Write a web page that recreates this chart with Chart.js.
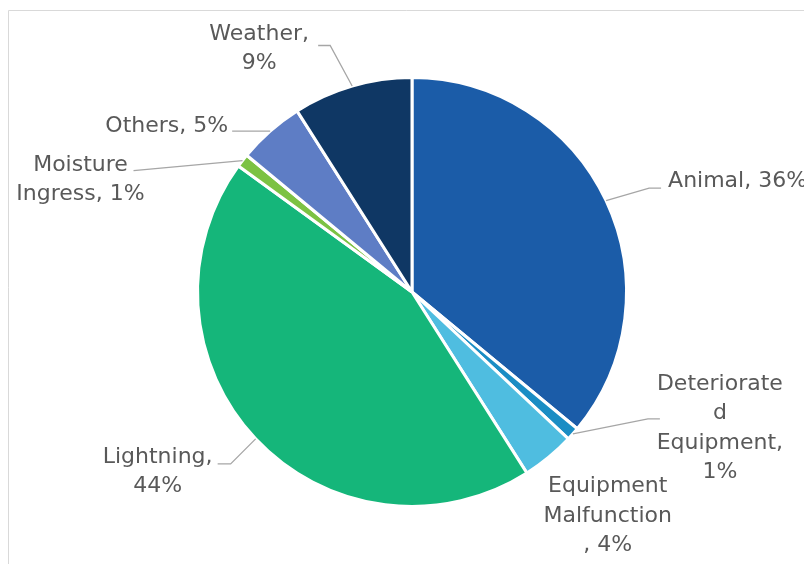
<!DOCTYPE html>
<html>
<head>
<meta charset="utf-8">
<script src="https://cdn.jsdelivr.net/npm/chart.js@4/dist/chart.umd.min.js"></script>
<style>
  html, body { margin: 0; padding: 0; background: #ffffff; }
  #wrap { width: 804px; height: 564px; }
</style>
</head>
<body>
<div id="wrap"><canvas id="c" width="804" height="564"></canvas></div>
<script>
// Outage causes, share of events (%)
const categories = ['Animal', 'Deteriorated Equipment', 'Equipment Malfunction', 'Lightning', 'Moisture Ingress', 'Others', 'Weather'];
const shares = [36, 1, 4, 44, 1, 5, 9];
const sliceColors = ['#1b5ca8', '#1a8dc4', '#4fbde0', '#15b67a', '#7cc243', '#5e7dc5', '#0f3764'];

// Data label text, wrapped line by line
const pct = i => shares[i] + '%';
const labelLines = [
  ['Animal, ' + pct(0)],
  ['Deteriorate', 'd', 'Equipment,', pct(1)],
  ['Equipment', 'Malfunction', ', ' + pct(2)],
  ['Lightning,', pct(3)],
  ['Moisture', 'Ingress, ' + pct(4)],
  ['Others, ' + pct(5)],
  ['Weather,', pct(6)]
];

// Label placement relative to each slice's outer mid-point:
// leader = bend points of the leader line, tx/ty = text anchor (first baseline)
const labelLayout = [
  { leader: [[43, -12.5], [55, -12.5]], tx: 62, ty: -13.5, align: 'left' },
  { leader: [[75, -15], [87, -15]], tx: 147, ty: -44, align: 'center' },
  { leader: [], tx: 59, ty: 35, align: 'center' },
  { leader: [[-25, 25], [-38, 25]], tx: -98, ty: 24, align: 'center' },
  { leader: [[-109, 10]], tx: -162, ty: 10, align: 'center' },
  { leader: [[-38, 0]], tx: -42, ty: 0.5, align: 'right' },
  { leader: [[-22, -40.5], [-34, -40.5]], tx: -93, ty: -46.5, align: 'center' }
];

const LINE_HEIGHT = 29.5;
const LABEL_FONT = '22px "DejaVu Sans", sans-serif';

const framePlugin = {
  id: 'frame',
  beforeDraw(chart) {
    const ctx = chart.ctx;
    ctx.save();
    ctx.strokeStyle = '#d9d9d9';
    ctx.lineWidth = 1;
    ctx.beginPath();
    ctx.moveTo(8.5, chart.height);
    ctx.lineTo(8.5, 10.5);
    ctx.lineTo(chart.width, 10.5);
    ctx.stroke();
    ctx.restore();
  }
};

const labelPlugin = {
  id: 'sliceLabels',
  afterDatasetsDraw(chart) {
    const ctx = chart.ctx;
    const arcs = chart.getDatasetMeta(0).data;
    ctx.save();
    arcs.forEach((arc, i) => {
      const p = arc.getProps(['x', 'y', 'startAngle', 'endAngle', 'outerRadius'], true);
      const mid = (p.startAngle + p.endAngle) / 2;
      const ax = p.x + Math.cos(mid) * p.outerRadius;
      const ay = p.y + Math.sin(mid) * p.outerRadius;
      const lay = labelLayout[i];
      if (lay.leader.length) {
        ctx.strokeStyle = '#a6a6a6';
        ctx.lineWidth = 1.3;
        ctx.beginPath();
        ctx.moveTo(ax, ay);
        lay.leader.forEach(([dx, dy]) => ctx.lineTo(ax + dx, ay + dy));
        ctx.stroke();
      }
      ctx.fillStyle = '#595959';
      ctx.font = LABEL_FONT;
      ctx.textAlign = lay.align;
      ctx.textBaseline = 'alphabetic';
      labelLines[i].forEach((line, k) => {
        ctx.fillText(line, ax + lay.tx, ay + lay.ty + k * LINE_HEIGHT);
      });
    });
    ctx.restore();
  }
};

new Chart(document.getElementById('c'), {
  type: 'pie',
  data: {
    labels: categories,
    datasets: [{
      data: shares,
      backgroundColor: sliceColors,
      borderColor: '#ffffff',
      borderWidth: 3
    }]
  },
  options: {
    responsive: false,
    devicePixelRatio: 1,
    animation: false,
    layout: { padding: { left: 196, right: 176, top: 76, bottom: 56 } },
    plugins: {
      legend: { display: false },
      tooltip: { enabled: false }
    }
  },
  plugins: [framePlugin, labelPlugin]
});
</script>
</body>
</html>
